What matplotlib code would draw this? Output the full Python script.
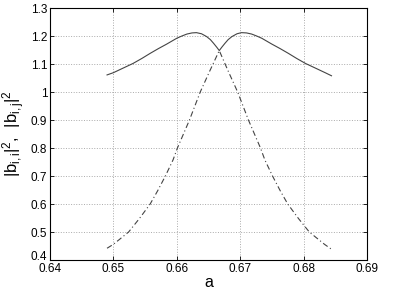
import matplotlib
matplotlib.use("Agg")
import matplotlib.pyplot as plt
import matplotlib.transforms as mtransforms

plt.rcParams['font.family'] = ['Liberation Sans', 'DejaVu Sans']
plt.rcParams['mathtext.fontset'] = 'custom'
plt.rcParams['mathtext.rm'] = 'Liberation Sans'
plt.rcParams['mathtext.it'] = 'Liberation Sans'

# |b_ii|^2 (solid)
a_ii = [0.6490, 0.6500, 0.6515, 0.6531, 0.6545, 0.6558, 0.6571, 0.6584,
        0.6600, 0.6608, 0.6616, 0.6624, 0.6631, 0.6639, 0.6647, 0.6653,
        0.6658, 0.6663, 0.6667,
        0.6671, 0.6676, 0.6681, 0.6687, 0.6695, 0.6702, 0.6710, 0.6718,
        0.6726, 0.6734, 0.6750, 0.6763, 0.6776, 0.6789, 0.6803, 0.6819,
        0.6834, 0.6844]
b_ii = [1.061, 1.069, 1.085, 1.102, 1.120, 1.138, 1.155, 1.171,
        1.192, 1.200, 1.207, 1.211, 1.212, 1.208, 1.198, 1.187,
        1.174, 1.160, 1.148,
        1.160, 1.174, 1.187, 1.198, 1.208, 1.212, 1.211, 1.207,
        1.200, 1.192, 1.171, 1.155, 1.138, 1.120, 1.102, 1.085,
        1.069, 1.058]

# |b_ij|^2 (dash-dot)
a_ij = [0.6490, 0.6500, 0.6512, 0.6524, 0.6541, 0.6558, 0.6570, 0.6582,
        0.6594, 0.6601, 0.6620, 0.6637, 0.6652, 0.6667,
        0.6681, 0.6696, 0.6713, 0.6732, 0.6739, 0.6751, 0.6763, 0.6775,
        0.6792, 0.6809, 0.6821, 0.6833, 0.6843]
b_ij = [0.442, 0.456, 0.478, 0.500, 0.548, 0.600, 0.648, 0.700,
        0.757, 0.800, 0.900, 1.000, 1.075, 1.148,
        1.075, 1.000, 0.900, 0.800, 0.757, 0.700, 0.648, 0.600,
        0.548, 0.500, 0.478, 0.456, 0.440]

xticks = [0.64, 0.65, 0.66, 0.67, 0.68, 0.69]
yticks = [0.4, 0.5, 0.6, 0.7, 0.8, 0.9, 1.0, 1.1, 1.2, 1.3]

fig = plt.figure(figsize=(4.09, 2.89), dpi=100)
ax = fig.add_axes([0.1222, 0.1003, 0.7751, 0.8720])

ax.plot(a_ii, b_ii, '-', color='#444444', lw=0.8)
ax.plot(a_ij, b_ij, color='#444444', lw=0.8,
        linestyle=(0, (5, 2.5, 1, 2.5)))

ax.set_xlim(0.64, 0.69)
ax.set_ylim(0.4, 1.3)
ax.set_xticks(xticks)
ax.set_xticklabels(['%g' % t for t in xticks])
ax.set_yticks(yticks)
ax.set_yticklabels(['%g' % t for t in yticks])
ax.tick_params(direction='in', top=True, right=True, labelsize=8.5, length=3,
               width=0.6, pad=2)
# matlab puts the bottom y label a bit higher so it clears 0.64
lab = ax.get_yticklabels()[0]
lab.set_transform(lab.get_transform() +
                  mtransforms.ScaledTranslation(0, 3 / 72, fig.dpi_scale_trans))
ax.grid(True, linestyle=':', color='#aaaaaa', lw=0.7)
for s in ax.spines.values():
    s.set_linewidth(0.8)

ax.set_xlabel('a', fontsize=11.5, labelpad=0)
ax.set_ylabel(r'$|\mathrm{b}_{i,i}|^2$,  $|\mathrm{b}_{i,j}|^2$', fontsize=12,
              labelpad=3)

fig.savefig('out.png', dpi=100)
